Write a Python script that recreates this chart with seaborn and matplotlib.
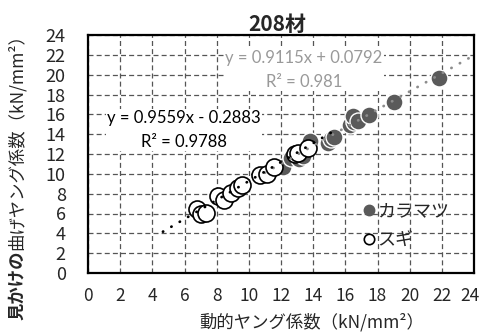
import numpy as np
import pandas as pd
import matplotlib
matplotlib.use("Agg")
import matplotlib.pyplot as plt
import matplotlib.transforms as mtrans
import seaborn as sns

# Dynamic modulus (x) vs apparent bending modulus (y), kN/mm2
karamatsu_x = [12.1, 12.6, 13.1, 13.35, 13.8, 14.9, 15.1, 15.3, 16.3, 16.55, 16.5, 16.8, 17.5, 19.0, 21.8]
karamatsu_y = [10.7, 11.6, 11.5, 11.8, 13.3, 13.1, 13.5, 13.7, 14.9, 15.2, 15.8, 15.3, 15.9, 17.2, 19.7]
sugi_x = [6.75, 7.05, 7.35, 8.1, 8.45, 8.9, 9.3, 9.6, 10.7, 11.1, 11.55, 12.85, 13.05, 13.7]
sugi_y = [6.5, 5.9, 6.1, 7.75, 7.4, 8.1, 8.6, 8.85, 9.85, 10.0, 10.65, 11.95, 12.15, 12.6]

# Trend lines (slope, intercept, R^2)
karamatsu_fit = (0.9115, 0.0792, 0.981)
sugi_fit = (0.9559, -0.2883, 0.9788)
karamatsu_span = (11.0, 23.8)
sugi_span = (4.66, 15.3)

ticks = list(range(0, 25, 2))
title = "208材"
xlabel = "動的ヤング係数（kN/mm²）"
ylabel_bold = "見かけの"
ylabel_rest = "曲げヤング係数（kN/mm²）"
series_names = ["カラマツ", "スギ"]

sns.set_style("white")
cjk = ["Noto Sans CJK JP", "DejaVu Sans"]
narrow = ["Liberation Sans Narrow", "Noto Sans CJK JP", "DejaVu Sans"]
plt.rcParams["font.family"] = cjk

df = pd.DataFrame({
    "x": karamatsu_x + sugi_x,
    "y": karamatsu_y + sugi_y,
    "species": [series_names[0]] * len(karamatsu_x) + [series_names[1]] * len(sugi_x),
})

fig = plt.figure(figsize=(4.82, 3.32), dpi=100)
ax = fig.add_axes([88 / 482, 59 / 332, 386 / 482, 238 / 332])

gray = "#5a5a5a"
sns.scatterplot(data=df[df.species == series_names[0]], x="x", y="y", ax=ax,
                color=gray, edgecolor="white", linewidth=1.0, s=150, zorder=3,
                legend=False)
sns.scatterplot(data=df[df.species == series_names[1]], x="x", y="y", ax=ax,
                color="white", edgecolor="black", linewidth=1.2, s=150, zorder=4,
                legend=False)

# dotted linear trend lines
for (m, b, _), (x0, x1), col in [(karamatsu_fit, karamatsu_span, "#8c8c8c"),
                                 (sugi_fit, sugi_span, "black")]:
    xs = np.array([x0, x1])
    ax.plot(xs, m * xs + b, color=col, lw=2.0, ls=(0, (0.1, 3.4)),
            dash_capstyle="round", zorder=5)

ax.set_xlim(0, 24)
ax.set_ylim(0, 24)
ax.set_xticks(ticks)
ax.set_yticks(ticks)
ax.grid(True, color="#555555", ls=(0, (4, 2.5)), lw=0.9)
ax.set_axisbelow(True)
for s in ax.spines.values():
    s.set_color("black")
    s.set_linewidth(1.6)
ax.tick_params(axis="both", length=0, labelsize=13)
ax.tick_params(axis="x", labelsize=12.5, pad=10)
ax.tick_params(axis="y", pad=16)
ax.set_xlabel("")
ax.set_ylabel("")
ax.set_title(title, fontsize=15, fontweight="bold", pad=3, family=narrow, x=0.49)

fig.canvas.draw()
for lab in ax.get_xticklabels() + ax.get_yticklabels():
    lab.set_family(narrow)
# keep the last x tick label inside the canvas
last = ax.get_xticklabels()[-1]
last.set_transform(last.get_transform() + mtrans.ScaledTranslation(-4 / 100, 0, fig.dpi_scale_trans))

# regression equations
eq_font = ["Lato", "DejaVu Sans"]
gm, gb, gr = karamatsu_fit
ax.text((304 - 88) / 386, (332 - 70 - 59) / 238,
        f"y = {gm}x + {gb}\nR² = {gr}", transform=ax.transAxes,
        ha="center", va="center", fontsize=12, color="#999999", family=eq_font,
        linespacing=1.55, bbox=dict(fc="white", ec="none", pad=1), zorder=6)
sm, sb, sr = sugi_fit
ax.text((184 - 88) / 386, (332 - 130 - 59) / 238,
        f"y = {sm}x - {abs(sb)}\nR² = {sr}", transform=ax.transAxes,
        ha="center", va="center", fontsize=12, color="black", family=eq_font,
        linespacing=1.55, bbox=dict(fc="white", ec="none", pad=1), zorder=6)

# legend
handles = [
    plt.Line2D([], [], ls="none", marker="o", ms=7.5, mfc=gray, mec=gray),
    plt.Line2D([], [], ls="none", marker="o", ms=7.5, mfc="white", mec="black", mew=1.2),
]
ax.legend(handles, series_names, loc="lower right", bbox_to_anchor=(0.955, 0.07),
          frameon=False, fontsize=13, handlelength=0.6, handletextpad=0.15,
          labelspacing=0.6, borderaxespad=0)

# axis titles
fig.text(312 / 482, 1 - 322 / 332, xlabel, ha="center", va="center", fontsize=12.5)
t1 = fig.text(17 / 482, 12 / 332, ylabel_bold, rotation=90, ha="center", va="bottom",
              fontsize=12.5, fontweight="bold")
fig.canvas.draw()
bb = t1.get_window_extent(fig.canvas.get_renderer())
fig.text(17 / 482, bb.y1 / fig.bbox.height, ylabel_rest, rotation=90, ha="center",
         va="bottom", fontsize=12.5)

fig.savefig("out.png", dpi=100)
